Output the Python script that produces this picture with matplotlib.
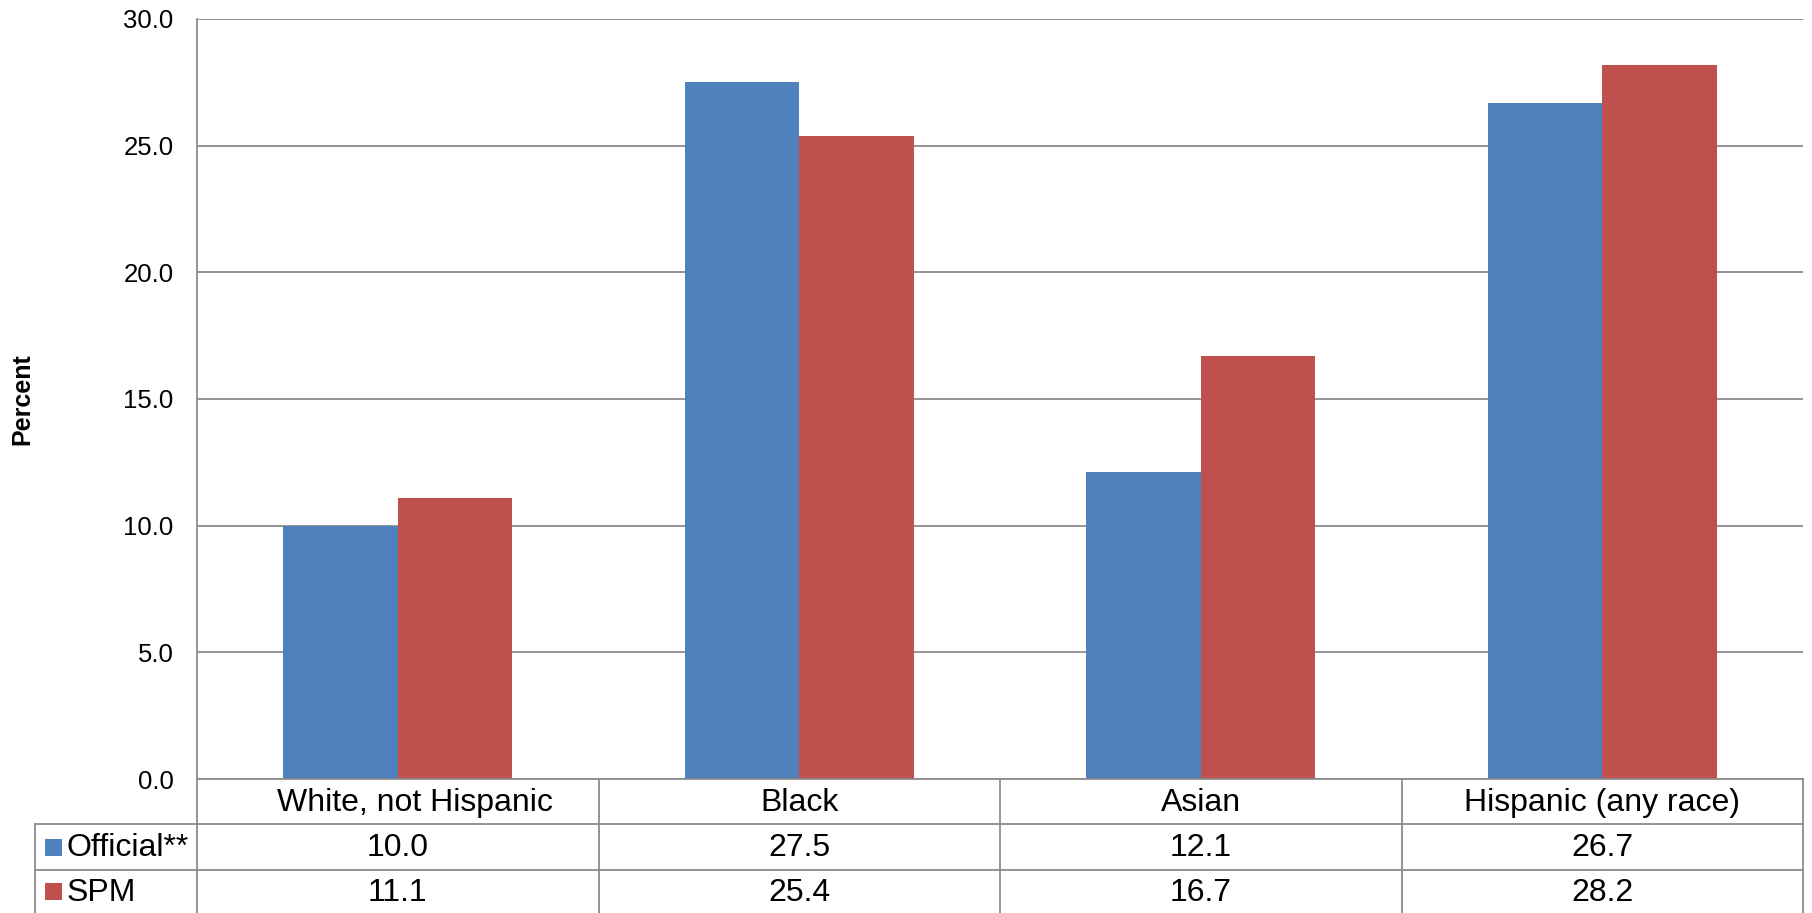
import matplotlib
matplotlib.use("Agg")
import matplotlib.pyplot as plt
from matplotlib.lines import Line2D
from matplotlib.patches import Rectangle

plt.rcParams['font.family'] = ['Liberation Sans', 'DejaVu Sans']

categories = ["White, not Hispanic", "Black", "Asian", "Hispanic (any race)"]
series_names = ["Official**", "SPM"]
official = [10.0, 27.5, 12.1, 26.7]
spm = [11.1, 25.4, 16.7, 28.2]
y_ticks = [0.0, 5.0, 10.0, 15.0, 20.0, 25.0, 30.0]

colors = ["#4F81BD", "#C0504D"]
grid_color = "#8C8C8C"

W, H, DPI = 1812, 913, 100
fig = plt.figure(figsize=(W / DPI, H / DPI), dpi=DPI)

# plot area in pixels
left_px, right_px, top_px, bottom_px = 197, 1803, 19, 779
ax = fig.add_axes([left_px / W, (H - bottom_px) / H,
                   (right_px - left_px) / W, (bottom_px - top_px) / H])

n = len(categories)
bar_w = 1 / 3.5  # gap width 150%
xs = list(range(n))
ax.bar([x - bar_w / 2 for x in xs], official, width=bar_w, color=colors[0], zorder=3)
ax.bar([x + bar_w / 2 for x in xs], spm, width=bar_w, color=colors[1], zorder=3)

ax.set_xlim(-0.5, n - 0.5)
ax.set_ylim(0, 30)
ax.set_yticks(y_ticks)
ax.set_yticklabels([f"{v:.1f}" for v in y_ticks], fontsize=18.5)
ax.set_xticks([])
ax.tick_params(axis='y', length=0, pad=17)
ax.yaxis.grid(True, color=grid_color, linewidth=1.3, zorder=0)
for side in ["top", "right", "bottom"]:
    ax.spines[side].set_visible(False)
ax.spines["left"].set_color(grid_color)
ax.spines["left"].set_linewidth(1.3)
ax.set_axisbelow(True)

fig.text(22 / W, 1 - 399 / H, "Percent", rotation=90, fontsize=18,
         fontweight="bold", ha="center", va="center")

# data table beneath the plot, laid out in figure pixels
unit_px = (right_px - left_px) / n
def fx(px):
    return px / W
def fy(py):
    return 1 - py / H

row_header = (779, 824)
row_off = (824, 870)
row_spm = (870, 913)
table_left = 35
lw = 1.3

def hline(x0, x1, y):
    fig.add_artist(Line2D([fx(x0), fx(x1)], [fy(y), fy(y)], color=grid_color, lw=lw))
def vline(x, y0, y1):
    fig.add_artist(Line2D([fx(x), fx(x)], [fy(y0), fy(y1)], color=grid_color, lw=lw))

hline(left_px, right_px, 779)
hline(table_left, right_px, 824)
hline(table_left, right_px, 870)
for i in range(n + 1):
    vline(left_px + i * unit_px, 779, 915)
vline(table_left, 824, 915)

table_fs = 23
header_shift = [17, 0, 0, 0]  # pixel nudge of header text inside its cell
for i, cat in enumerate(categories):
    cx = left_px + (i + 0.5) * unit_px
    fig.text(fx(cx + header_shift[i]), fy(sum(row_header) / 2 + 1), cat,
             fontsize=table_fs, ha="center", va="center")
    fig.text(fx(cx), fy(sum(row_off) / 2 + 1), f"{official[i]:.1f}", fontsize=table_fs,
             ha="center", va="center")
    fig.text(fx(cx), fy(sum(row_spm) / 2 + 1.5), f"{spm[i]:.1f}", fontsize=table_fs,
             ha="center", va="center")

for name, col, row in zip(series_names, colors, [row_off, row_spm]):
    cy = sum(row) / 2
    sq = 17
    fig.add_artist(Rectangle((fx(45), fy(cy + sq / 2)), sq / W, sq / H,
                             facecolor=col, edgecolor="none", transform=fig.transFigure))
    fig.text(fx(67), fy(cy + 1), name, fontsize=table_fs, ha="left", va="center")

fig.savefig("out.png", dpi=DPI)
